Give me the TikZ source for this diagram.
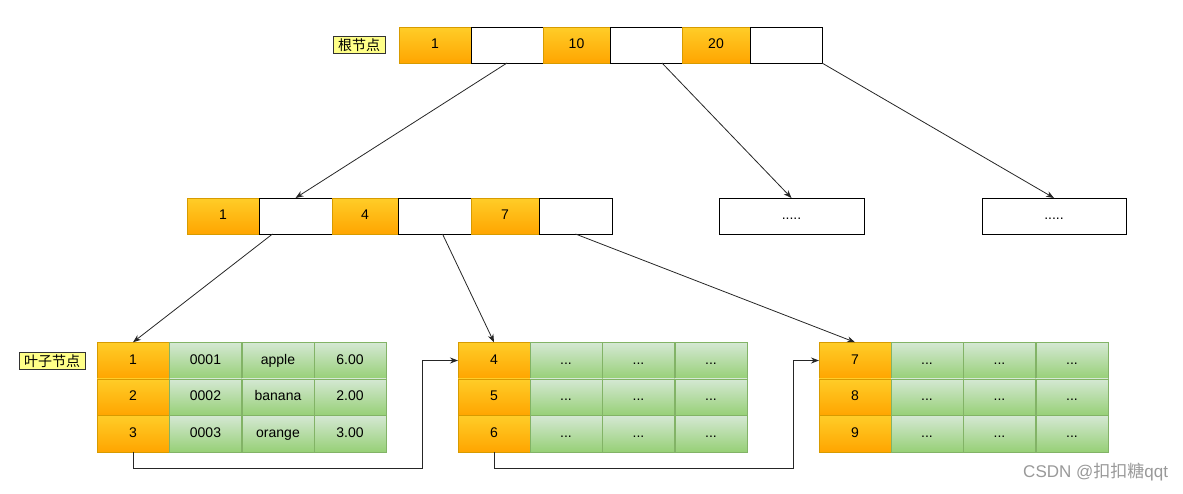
\documentclass[tikz,border=0pt]{standalone}
\usepackage{fontspec}
\setmainfont{Liberation Sans}
\newfontfamily\cjk{Noto Sans CJK SC}
\usetikzlibrary{arrows.meta}
\definecolor{keytop}{HTML}{FFCD28}
\definecolor{keybot}{HTML}{FFA500}
\definecolor{keyline}{HTML}{D79B00}
\definecolor{datatop}{HTML}{D5E8D4}
\definecolor{databot}{HTML}{97D077}
\definecolor{dataline}{HTML}{82B366}
\definecolor{tagfill}{HTML}{FFFF88}
\begin{document}
\begin{tikzpicture}[x=1pt,y=-1pt,
  every node/.style={inner sep=0pt,outer sep=0pt,font=\fontsize{14}{16}\selectfont,text height=10pt,text depth=3pt},
  key/.style={draw=keyline,top color=keytop,bottom color=keybot,minimum height=36pt,minimum width=#1},
  key/.default=72pt,
  ptr/.style={draw=black,fill=white,minimum height=36pt,minimum width=#1},
  ptr/.default=72pt,
  cell/.style={draw=keyline,top color=keytop,bottom color=keybot,minimum height=36.5pt,minimum width=72pt},
  data/.style={draw=dataline,top color=datatop,bottom color=databot,minimum height=36.5pt,minimum width=72pt},
  tag/.style={draw=black!80,fill=tagfill,minimum height=17pt,font=\cjk\fontsize{14}{16}\selectfont,inner xsep=5pt,text height=12pt,text depth=2pt},
  link/.style={draw=black!85,line width=0.8pt,-{Stealth[length=8pt,width=6pt]}}]
\useasboundingbox (0,0) rectangle (1183,493);
% root node
\node[tag] (roottag) at (359,45) {根节点};
\node[key] (r1) at (435,45) {1};
\node[ptr] (rp1) at (507,45) {};
\node[key=67pt] (r10) at (576.5,45) {10};
\node[ptr] (rp2) at (646,45) {};
\node[key=68pt] (r20) at (716,45) {20};
\node[ptr] (rp3) at (786,45) {};
% second level
\node[key] (m1) at (223,216) {1};
\node[ptr=73pt] (mp1) at (295.5,216) {};
\node[key=66pt] (m4) at (365,216) {4};
\node[ptr=73pt] (mp2) at (434.5,216) {};
\node[key=68pt] (m7) at (505,216) {7};
\node[ptr=73pt] (mp3) at (575.5,216) {};
\node[ptr=145pt] (box1) at (791.5,216) {.....};
\node[ptr=144pt] (box2) at (1054,216) {.....};
% leaves
\node[tag] (leaftag) at (52,361) {叶子节点};
\node[cell] (l1a) at (133,360.5) {1};
\node[cell] (l1b) at (133,397) {2};
\node[cell] (l1c) at (133,433.5) {3};
\node[data] at (205.5,360.5) {0001};
\node[data] at (278,360.5) {apple};
\node[data] at (350,360.5) {6.00};
\node[data] at (205.5,397) {0002};
\node[data] at (278,397) {banana};
\node[data] at (350,397) {2.00};
\node[data] at (205.5,433.5) {0003};
\node[data] at (278,433.5) {orange};
\node[data] at (350,433.5) {3.00};
\node[cell] (l2a) at (494,360.5) {4};
\node[cell] (l2b) at (494,397) {5};
\node[cell] (l2c) at (494,433.5) {6};
\node[cell] (l3a) at (855,360.5) {7};
\node[cell] (l3b) at (855,397) {8};
\node[cell] (l3c) at (855,433.5) {9};
\foreach \x in {566,638.5,711,927,999.5,1072}
  \foreach \y in {360.5,397,433.5}
    \node[data] at (\x,\y) {...};
\coordinate (j1) at (422,468);
\coordinate (j2) at (793,468);
% pointers
\path[link] (rp1.south) -- (mp1.north);
\path[link] ([xshift=16pt]rp2.south) -- (box1.north);
\path[link] (rp3.south east) -- (box2.north);
\path[link] ([xshift=-23pt]mp1.south) -- (l1a.north);
\path[link] ([xshift=8pt]mp2.south) -- (l2a.north);
\path[link] (mp3.south) -- (l3a.north);
\path[link] (l1c.south) |- (j1) |- (l2a.west);
\path[link] (l2c.south) |- (j2) |- (l3a.west);
\node[text=black!40,anchor=east,font=\fontsize{17}{19}\selectfont] (mark) at (1168,474) {CSDN @{\cjk 扣扣糖}qqt};
\end{tikzpicture}
\end{document}
